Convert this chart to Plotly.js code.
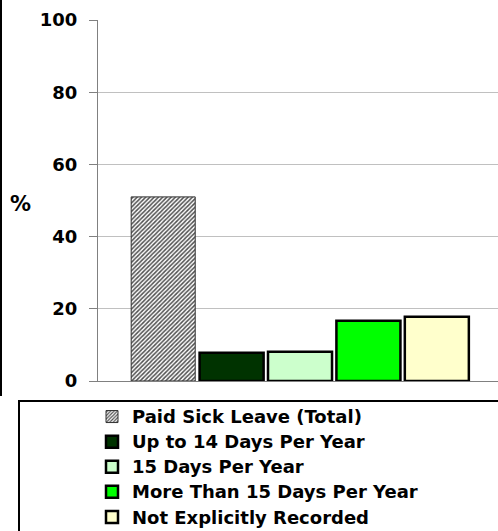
<!DOCTYPE html>
<html>
<head>
<meta charset="utf-8">
<script src="https://cdn.plot.ly/plotly-3.0.1.min.js"></script>
<style>
  html, body { margin: 0; padding: 0; background: #fff; }
  #chart { width: 498px; height: 531px; }
  /* slightly larger legend lettering while keeping the row pitch of a 17px font */
  text.legendtext { font-size: 18px !important; }
</style>
</head>
<body>
<div id="chart"></div>
<script>
// Share of workers by paid sick leave entitlement (%)
const group = ['Paid sick leave'];
const seriesNames = [
  'Paid Sick Leave (Total)',
  'Up to 14 Days Per Year',
  '15 Days Per Year',
  'More Than 15 Days Per Year',
  'Not Explicitly Recorded'
];
const seriesValues = [51.0, 7.8, 8.1, 16.7, 17.8];
const seriesColors = ['#ffffff', '#003300', '#ccffcc', '#00ff00', '#ffffcc'];
const yTicks = [0, 20, 40, 60, 80, 100];

const boldFont = { family: 'DejaVu Sans', weight: 'bold', color: '#000000' };

const traces = seriesNames.map((name, i) => {
  const marker = {
    color: seriesColors[i],
    line: { color: '#000000', width: 2.5 }
  };
  if (i === 0) {
    marker.pattern = { shape: '/', fgcolor: '#505050', bgcolor: '#ffffff', size: 3, solidity: 0.5 };
    marker.line = { color: '#303030', width: 1 };
  }
  return {
    type: 'bar',
    name: name,
    x: group,
    y: [seriesValues[i]],
    marker: marker,
    hoverinfo: 'skip'
  };
});

// plot area spans x 98..498 px and y 20..381 px
const W = 400, H = 361, L = 98, T = 20;
const px = x => (x - L) / W;
const py = y => (T + H - y) / H;

const layout = {
  width: 498,
  height: 531,
  autosize: false,
  margin: { l: L, r: 0, t: T, b: 531 - T - H, pad: 0, autoexpand: false },
  paper_bgcolor: '#ffffff',
  plot_bgcolor: '#ffffff',
  barmode: 'group',
  bargap: 0.15,
  bargroupgap: 0.064,
  showlegend: true,
  legend: {
    x: px(92), y: py(399), xanchor: 'left', yanchor: 'top',
    bgcolor: 'rgba(0,0,0,0)', borderwidth: 0,
    traceorder: 'normal',
    font: Object.assign({ size: 17 }, boldFont)
  },
  xaxis: {
    type: 'category',
    range: [-0.502, 0.492],
    showline: true, linecolor: '#808080', linewidth: 1,
    showticklabels: false, ticks: '', showgrid: false, zeroline: false
  },
  yaxis: {
    range: [0, 100],
    tickvals: yTicks,
    ticktext: yTicks.map(String),
    ticks: 'outside', ticklen: 8, tickcolor: '#808080', tickwidth: 1,
    ticklabelstandoff: 8,
    showline: true, linecolor: '#808080', linewidth: 1,
    showgrid: true, gridcolor: '#c0c0c0', gridwidth: 1,
    zeroline: false,
    tickfont: Object.assign({ size: 18 }, boldFont)
  },
  annotations: [{
    text: '%', xref: 'paper', yref: 'paper',
    x: px(20), y: py(204), xanchor: 'center', yanchor: 'middle',
    showarrow: false, font: Object.assign({ size: 21 }, boldFont)
  }],
  shapes: [
    // outer chart border on the left
    { type: 'line', xref: 'paper', yref: 'paper',
      x0: px(1), x1: px(1), y0: py(396), y1: py(-5),
      line: { color: '#000000', width: 2 } },
    // legend frame
    { type: 'rect', xref: 'paper', yref: 'paper',
      x0: px(19), x1: px(560), y0: py(401), y1: py(600),
      line: { color: '#000000', width: 2 }, fillcolor: 'rgba(0,0,0,0)' }
  ]
};

Plotly.newPlot('chart', traces, layout, { staticPlot: true, displayModeBar: false });
</script>
</body>
</html>
